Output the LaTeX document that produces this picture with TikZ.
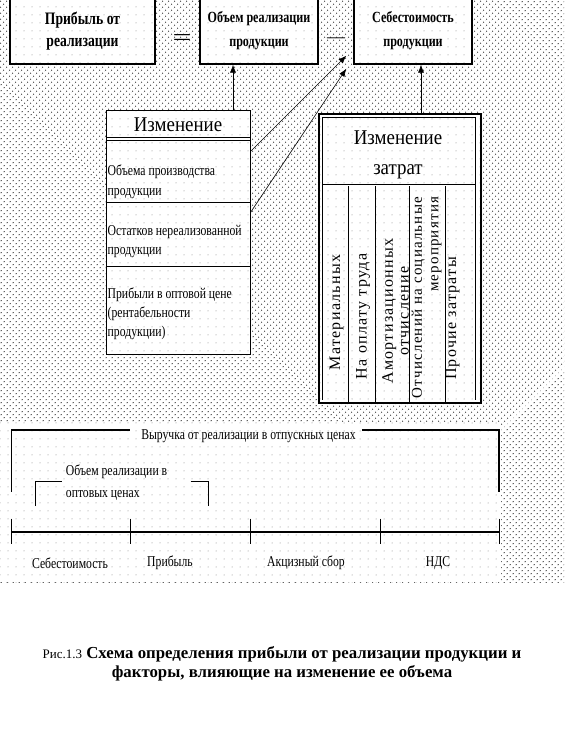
\documentclass[tikz,border=0pt]{standalone}
\usepackage{fontspec}
\setmainfont{Liberation Serif}
\newfontfamily\nrw[FakeStretch=0.78]{Liberation Serif}
\newfontfamily\nrwt[FakeStretch=0.9]{Liberation Serif}
\newfontfamily\wide[LetterSpace=8]{Liberation Serif}
\usetikzlibrary{arrows.meta,patterns.meta}

\tikzset{
  bg/.style={pattern={Dots[distance=4pt,radius=0.7pt,angle=45]},pattern color=black!75},
  lt/.style={preaction={fill=white},pattern={Dots[distance=8pt,radius=0.5pt]},pattern color=black!50},
  box/.style={draw,lt,line width=1.3pt,inner sep=0pt,align=center,
    font=\nrw\bfseries\fontsize{15.5}{24}\selectfont},
  frm/.style={draw,lt,line width=1pt,inner sep=0pt},
  txt/.style={inner sep=0pt,align=left,font=\nrw\fontsize{15}{19}\selectfont},
  ttl/.style={inner sep=0pt,align=center,font=\nrwt\fontsize{21}{30}\selectfont},
  vert/.style={inner sep=0pt,rotate=90,font=\wide\fontsize{16}{15.6}\selectfont},
  arr/.style={-{Latex[length=8pt,width=6pt]},line width=0.6pt},
}

\begin{document}
\begin{tikzpicture}[x=1pt,y=-1pt]
  \useasboundingbox (0,0) rectangle (564,751);
  \fill[bg] (0,0) rectangle (564,582);
  \fill[lt] (0,422) rectangle (501,582);

  % top row
  \node[box,minimum width=145pt,minimum height=66pt,font=\nrw\bfseries\fontsize{17.5}{22}\selectfont]
    (pr) at (82.5,31) {Прибыль от\\реализации};
  \node[box,minimum width=118pt,minimum height=66pt] (vol) at (259,31) {Объем реализации\\продукции};
  \node[box,minimum width=118pt,minimum height=66pt] (cost) at (413,31) {Себестоимость\\продукции};
  \node[inner sep=0pt,font=\fontsize{24}{24}\selectfont] (eq) at (182,40) {\scalebox{1.4}[1]{=}};
  \node[inner sep=0pt,font=\fontsize{18}{18}\selectfont] (mn) at (336,40) {---};

  % left box
  \node[frm,minimum width=144pt,minimum height=243pt] (chg) at (178,232.5) {};
  \node[ttl] (chgt) at (178,124.5) {Изменение};
  \draw ([yshift=-26.5pt]chg.north west) -- ([yshift=-26.5pt]chg.north east);
  \draw ([yshift=-29.5pt]chg.north west) -- ([yshift=-29.5pt]chg.north east);
  \draw ([yshift=-92pt]chg.north west) -- ([yshift=-92pt]chg.north east);
  \draw ([yshift=-156pt]chg.north west) -- ([yshift=-156pt]chg.north east);
  \node[txt,anchor=west,font=\nrw\fontsize{15}{20}\selectfont] (ra) at (107.5,182) {Объема производства\\продукции};
  \node[txt,anchor=west] (rb) at (107.5,241) {Остатков нереализованной\\продукции};
  \node[txt,anchor=west] (rc) at (107.5,314) {Прибыли в оптовой цене\\(рентабельности\\продукции)};

  % right box
  \node[frm,line width=1.3pt,minimum width=162pt,minimum height=289pt] (zt) at (400,258.5) {};
  \draw ([xshift=3.5pt,yshift=4pt]zt.south west) |- ([xshift=-6pt,yshift=-4pt]zt.north east)
    -- ([xshift=-6pt,yshift=4pt]zt.south east);
  \draw ([xshift=3.5pt,yshift=-71pt]zt.north west) -- ([xshift=-6pt,yshift=-71pt]zt.north east);
  \foreach \d in {30.3,56.5,91,126.7}
    \draw ([xshift=\d pt]zt.south west) -- ++(0,-218);
  \node[ttl] (ztt) at (398,155) {Изменение\\затрат};
  \node[vert] (m1) at (336.7,312.5) {Материальных};
  \node[vert] (m2) at (363,316.5) {На оплату труда};
  \node[vert,align=center] (m3) at (395.5,311) {Амортизационных\\отчисление};
  \node[vert,align=right,font=\wide\fontsize{15}{16.5}\selectfont] (m4) at (426.5,297.5) {Отчислений на социальные\\мероприятия};
  \node[vert] (m5) at (452.7,318.5) {Прочие затраты};

  % arrows
  \coordinate (up1) at ([xshift=55pt]chg.north);
  \draw[arr] (up1) -- (up1 |- vol.south);
  \coordinate (up2) at ([xshift=21pt]zt.north);
  \draw[arr] (up2) -- (up2 |- cost.south);
  \draw[arr] ([yshift=-41pt]chg.north east) -- ([xshift=-7pt,yshift=9pt]cost.south west);
  \draw[arr] ([yshift=-102pt]chg.north east) -- ([xshift=-7pt,yshift=-4pt]cost.south west);

  % bottom part
  \node[txt] (rev) at (248.5,436) {Выручка от реализации в отпускных ценах};
  \coordinate (r1) at (11.7,491.7);
  \coordinate (r3) at (130,430);
  \coordinate (r4) at (362,430);
  \coordinate (r6) at (499,491.7);
  \draw[line width=1.1pt] (r1) |- (r3);
  \draw[line width=1.1pt] (r4) -| (r6);
  \node[txt,anchor=west,font=\nrw\fontsize{15}{21.6}\selectfont] (opt) at (65.7,482.5) {Объем реализации в\\оптовых ценах};
  \coordinate (o1) at (35.7,506);
  \coordinate (o2) at (62.3,481.7);
  \coordinate (o3) at (190.7,481.7);
  \coordinate (o4) at (208.3,506);
  \draw[line width=1.1pt] (o1) |- (o2);
  \draw[line width=1.1pt] (o3) -| (o4);
  \coordinate (a0) at (11.7,532);
  \coordinate (a4) at (499,532);
  \draw[line width=1.4pt] (a0) -- (a4);
  \foreach \x in {11.7,130,250.6,380,499}
    \draw[line width=1pt] (\x,518.5) -- (\x,543.5);
  \node[txt] (l1) at (70,562.7) {Себестоимость};
  \node[txt] (l2) at (170,562.7) {Прибыль};
  \node[txt] (l3) at (306,562.7) {Акцизный сбор};
  \node[txt] (l4) at (438,562.7) {НДС};

  % caption
  \node[inner sep=0pt,align=center,font=\fontsize{16.8}{19}\selectfont] (cap) at (282,664)
    {{\fontsize{13}{19}\selectfont Рис.1.3} \textbf{Схема определения прибыли от реализации продукции и}\\
     \textbf{факторы, влияющие на изменение ее объема}};
\end{tikzpicture}
\end{document}
